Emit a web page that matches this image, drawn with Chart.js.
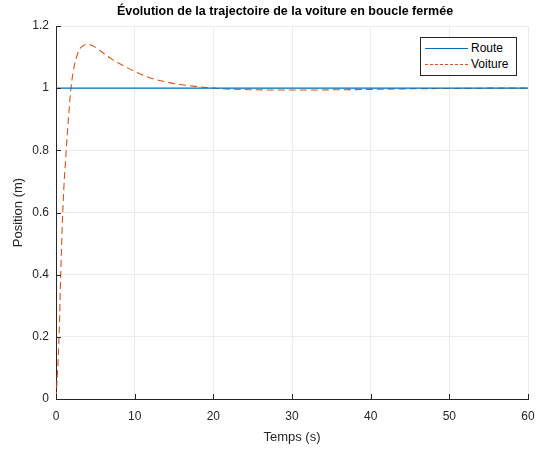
<!DOCTYPE html>
<html>
<head>
<meta charset="utf-8">
<script src="https://cdn.jsdelivr.net/npm/chart.js@4/dist/chart.umd.min.js"></script>
<style>
  html, body { margin: 0; padding: 0; background: #fff; }
  #wrap { position: relative; width: 538px; height: 451px; overflow: hidden; font-family: "Liberation Sans", Arial, sans-serif; }
  #c { position: absolute; left: 0; top: 0; }
  #title { position: absolute; left: 50px; width: 470px; top: 4px; text-align: center; font-weight: bold; font-size: 12.5px; color: #000; line-height: 15px; }
  #legend { position: absolute; left: 420px; top: 37px; width: 95px; height: 37px; border: 1px solid #262626; background: #fff; font-size: 12px; color: #000; }
  .row { position: absolute; left: 0; height: 14px; line-height: 14px; }
  .sample { position: absolute; left: 4px; width: 43px; top: 7px; height: 0; }
  .lbl { position: absolute; left: 50px; top: 0; white-space: nowrap; }
</style>
</head>
<body>
<div id="wrap">
  <canvas id="c" width="538" height="451"></canvas>
  <div id="title">Évolution de la trajectoire de la voiture en boucle fermée</div>
  <div id="legend">
    <div class="row" style="top:3px;"><div class="sample" style="border-top:1px solid #0072BD;"></div><span class="lbl">Route</span></div>
    <div class="row" style="top:19px;"><div class="sample" style="border-top:1px dashed #D95319;"></div><span class="lbl">Voiture</span></div>
  </div>
</div>
<script>
// ---- data ----
const routeTime = [0, 60];
const routeValues = [1, 1];

const voitureTime = [0, 0.2, 0.4, 0.6, 0.8, 1.0, 1.3, 1.6, 1.9, 2.4, 3.0, 3.5, 4.0, 5.0, 6.0, 7.0, 8.0, 10, 12, 14, 16, 18, 20, 22, 25, 28, 32, 36, 40, 45, 50, 55, 60];
const voitureValues = [0, 0.09, 0.21, 0.40, 0.56, 0.68, 0.80, 0.91, 1.00, 1.08, 1.125, 1.137, 1.141, 1.132, 1.113, 1.095, 1.080, 1.054, 1.033, 1.020, 1.011, 1.005, 1.000, 0.997, 0.995, 0.994, 0.994, 0.995, 0.996, 0.998, 0.999, 1.000, 1.000];

const xTicks = [0, 10, 20, 30, 40, 50, 60];
const yTicks = [0, 0.2, 0.4, 0.6, 0.8, 1, 1.2];

const toPts = (xs, ys) => xs.map((x, i) => ({ x: x, y: ys[i] }));

const axisColor = '#262626';
const gridColor = '#ebebeb';
const fontFamily = '"Liberation Sans", Arial, sans-serif';

const inwardTicks = {
  id: 'inwardTicks',
  afterDatasetsDraw(chart) {
    const ctx = chart.ctx;
    const xs = chart.scales.x, ys = chart.scales.y;
    const a = chart.chartArea;
    ctx.save();
    ctx.strokeStyle = axisColor;
    ctx.lineWidth = 1;
    ctx.beginPath();
    yTicks.forEach(v => {
      const py = Math.round(ys.getPixelForValue(v)) + 0.5;
      ctx.moveTo(a.left, py);
      ctx.lineTo(a.left + 5, py);
    });
    xTicks.forEach(v => {
      const px = Math.round(xs.getPixelForValue(v)) + 0.5;
      ctx.moveTo(px, a.bottom);
      ctx.lineTo(px, a.bottom - 5);
    });
    ctx.stroke();
    ctx.restore();
  }
};

new Chart(document.getElementById('c'), {
  type: 'line',
  data: {
    datasets: [
      {
        label: 'Route',
        data: toPts(routeTime, routeValues),
        borderColor: '#0072BD',
        borderWidth: 1.2,
        pointRadius: 0,
        fill: false
      },
      {
        label: 'Voiture',
        data: toPts(voitureTime, voitureValues),
        borderColor: '#D95319',
        borderWidth: 1.1,
        borderDash: [7, 4],
        pointRadius: 0,
        cubicInterpolationMode: 'monotone',
        fill: false
      }
    ]
  },
  options: {
    responsive: false,
    devicePixelRatio: 1,
    animation: false,
    events: [],
    layout: { padding: { left: 0, right: 10, top: 26, bottom: 0 } },
    plugins: {
      legend: { display: false },
      title: { display: false },
      tooltip: { enabled: false }
    },
    scales: {
      x: {
        type: 'linear',
        min: 0,
        max: 60,
        afterBuildTicks: s => { s.ticks = xTicks.map(v => ({ value: v })); },
        afterFit: s => { s.height = 52; s.paddingLeft = 0; s.paddingRight = 0; },
        ticks: { color: axisColor, font: { family: fontFamily, size: 12 }, padding: 10, maxRotation: 0 },
        grid: { color: gridColor, drawTicks: false },
        border: { display: true, color: axisColor, width: 1 },
        title: { display: true, text: 'Temps (s)', color: axisColor, font: { family: fontFamily, size: 13 }, padding: { top: 1, bottom: 6 } }
      },
      y: {
        type: 'linear',
        min: 0,
        max: 1.2,
        afterBuildTicks: s => { s.ticks = yTicks.map(v => ({ value: v })); },
        afterFit: s => { s.width = 56; s.paddingTop = 0; s.paddingBottom = 0; },
        ticks: { color: axisColor, font: { family: fontFamily, size: 12 }, padding: 7, callback: v => String(Math.round(v * 10) / 10) },
        grid: { color: gridColor, drawTicks: false },
        border: { display: true, color: axisColor, width: 1 },
        title: { display: true, text: 'Position (m)', color: axisColor, font: { family: fontFamily, size: 13 }, padding: { top: 11, bottom: 0 } }
      }
    }
  },
  plugins: [inwardTicks]
});
</script>
</body>
</html>
